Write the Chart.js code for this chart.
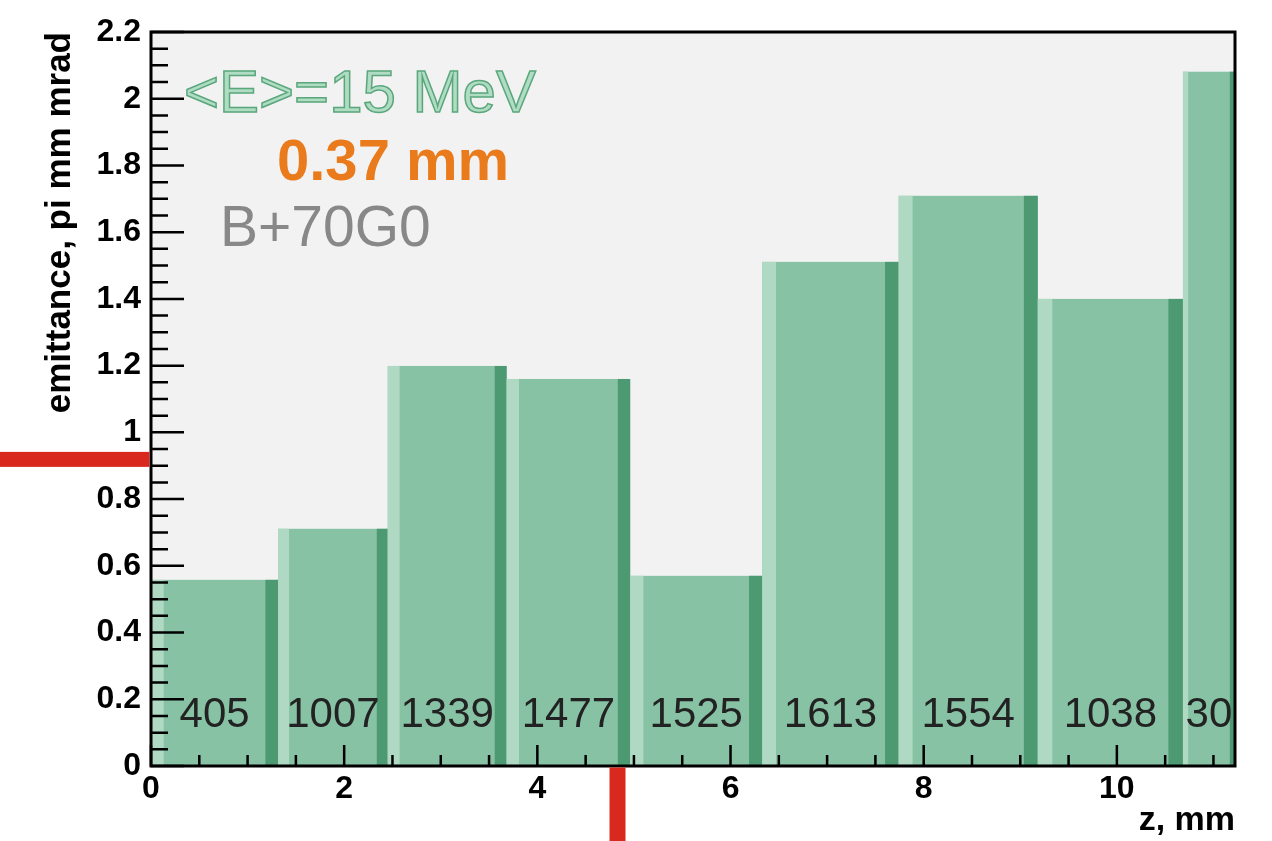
<!DOCTYPE html>
<html>
<head>
<meta charset="utf-8">
<title>emittance vs z</title>
<script src="https://cdn.jsdelivr.net/npm/chart.js@4.4.1/dist/chart.umd.min.js"></script>
<style>
  html, body { margin: 0; padding: 0; background: #fff; }
  #c { display: block; }
</style>
</head>
<body>
<canvas id="c" width="1272" height="841"></canvas>
<script>
// histogram bins along z (mm), emittance per bin and particle count per bin
const binEdges = [0, 1.316, 2.451, 3.682, 4.961, 6.329, 7.741, 9.181, 10.684, 11.223];
const emittance = [0.558, 0.711, 1.199, 1.160, 0.570, 1.511, 1.709, 1.400, 2.081];
const counts = ['405', '1007', '1339', '1477', '1525', '1613', '1554', '1038', '30'];

const xTicks = [0, 2, 4, 6, 8, 10];
const yTicks = [0, 0.2, 0.4, 0.6, 0.8, 1, 1.2, 1.4, 1.6, 1.8, 2, 2.2];

// red reference marks outside the frame
const markEmittance = 0.919;
const markZ = 4.83;

const FONT = '"Liberation Sans", Arial, Helvetica, sans-serif';
const colors = {
    plotBg: '#f2f2f2',
    bar: '#87c2a5',
    barLight: '#b0d9c4',
    barDark: '#4c9972',
    count: '#222222',
    red: '#d9291f'
};

const histPlugin = {
    id: 'hist',
    beforeDatasetsDraw(chart) {
        const { ctx, chartArea: a, scales: { x, y } } = chart;
        ctx.save();
        ctx.fillStyle = colors.plotBg;
        ctx.fillRect(a.left, a.top, a.right - a.left, a.bottom - a.top);

        const y0 = y.getPixelForValue(0);
        const labelY = y.getPixelForValue(0.117);
        emittance.forEach((v, i) => {
            const x1 = x.getPixelForValue(binEdges[i]);
            const x2 = x.getPixelForValue(binEdges[i + 1]);
            const top = y.getPixelForValue(v);
            const w = x2 - x1;
            const strip = w * 0.1;
            ctx.fillStyle = colors.bar;
            ctx.fillRect(x1, top, w, y0 - top);
            ctx.fillStyle = colors.barLight;
            ctx.fillRect(x1, top, strip, y0 - top);
            ctx.fillStyle = colors.barDark;
            ctx.fillRect(x2 - strip, top, strip, y0 - top);

            ctx.font = '42px ' + FONT;
            ctx.fillStyle = colors.count;
            ctx.textAlign = 'center';
            ctx.textBaseline = 'alphabetic';
            ctx.fillText(counts[i], (x1 + x2) / 2, labelY);
        });
        ctx.restore();
    },
    afterDraw(chart) {
        const { ctx, chartArea: a, scales: { x, y } } = chart;
        ctx.save();

        // ROOT style ticks pointing into the frame
        ctx.strokeStyle = '#000';
        ctx.lineWidth = 2.5;
        ctx.beginPath();
        for (let i = 0; i <= 44; i++) {
            const py = y.getPixelForValue(i * 0.05);
            const len = i % 4 === 0 ? 33 : 17;
            ctx.moveTo(a.left, py);
            ctx.lineTo(a.left + len, py);
        }
        for (let i = 0; i * 0.5 <= x.max; i++) {
            const px = x.getPixelForValue(i * 0.5);
            const len = i % 4 === 0 ? 21 : 11;
            ctx.moveTo(px, a.bottom);
            ctx.lineTo(px, a.bottom - len);
        }
        ctx.stroke();

        ctx.lineWidth = 3;
        ctx.strokeRect(a.left, a.top, a.right - a.left, a.bottom - a.top);

        // red marks
        ctx.fillStyle = colors.red;
        const my = y.getPixelForValue(markEmittance);
        ctx.fillRect(0, my - 7.5, a.left - 1.5, 15);
        const mx = x.getPixelForValue(markZ);
        ctx.fillRect(mx - 8, a.bottom + 1.5, 16, chart.height - a.bottom);

        // labels inside the frame
        ctx.textAlign = 'left';
        ctx.textBaseline = 'alphabetic';
        ctx.font = '60px ' + FONT;
        ctx.fillStyle = '#b0dcc4';
        ctx.strokeStyle = '#5aa77c';
        ctx.lineWidth = 1.5;
        ctx.fillText('<E>=15 MeV', 184, 112);
        ctx.strokeText('<E>=15 MeV', 184, 112);

        ctx.font = 'bold 58px ' + FONT;
        ctx.fillStyle = '#ea7b1c';
        ctx.fillText('0.37 mm', 277, 180);

        ctx.font = '57px ' + FONT;
        ctx.fillStyle = '#888888';
        ctx.fillText('B+70G0', 220, 246);
        ctx.restore();
    }
};

const fmt = (v) => String(Math.round(v * 10) / 10);

new Chart(document.getElementById('c'), {
    type: 'scatter',
    data: { datasets: [{ data: [], showLine: false }] },
    options: {
        responsive: false,
        animation: false,
        devicePixelRatio: 1,
        layout: { padding: { left: 0, right: 37, top: 32, bottom: 0 } },
        plugins: {
            legend: { display: false },
            tooltip: { enabled: false }
        },
        scales: {
            x: {
                type: 'linear',
                min: 0,
                max: binEdges[binEdges.length - 1],
                afterFit: (s) => { s.height = 75; },
                afterBuildTicks: (s) => { s.ticks = xTicks.map(v => ({ value: v })); },
                grid: { display: false, drawTicks: false },
                border: { display: false },
                ticks: {
                    padding: 4,
                    color: '#000',
                    maxRotation: 0,
                    autoSkip: false,
                    font: { family: FONT, size: 32, weight: 'bold' },
                    callback: fmt
                },
                title: {
                    display: true,
                    text: 'z, mm',
                    align: 'end',
                    color: '#000',
                    font: { family: FONT, size: 34, weight: 'bold' },
                    padding: { top: 0, bottom: 0 }
                }
            },
            y: {
                type: 'linear',
                min: 0,
                max: 2.2,
                afterFit: (s) => { s.width = 151; },
                afterBuildTicks: (s) => { s.ticks = yTicks.map(v => ({ value: v })); },
                grid: { display: false, drawTicks: false },
                border: { display: false },
                ticks: {
                    padding: 10,
                    color: '#000',
                    autoSkip: false,
                    font: { family: FONT, size: 32, weight: 'bold' },
                    callback: fmt
                },
                title: {
                    display: true,
                    text: 'emittance, pi mm mrad',
                    align: 'end',
                    color: '#000',
                    font: { family: FONT, size: 35, weight: 'bold' },
                    padding: { top: 39, bottom: 0 }
                }
            }
        }
    },
    plugins: [histPlugin]
});
</script>
</body>
</html>
